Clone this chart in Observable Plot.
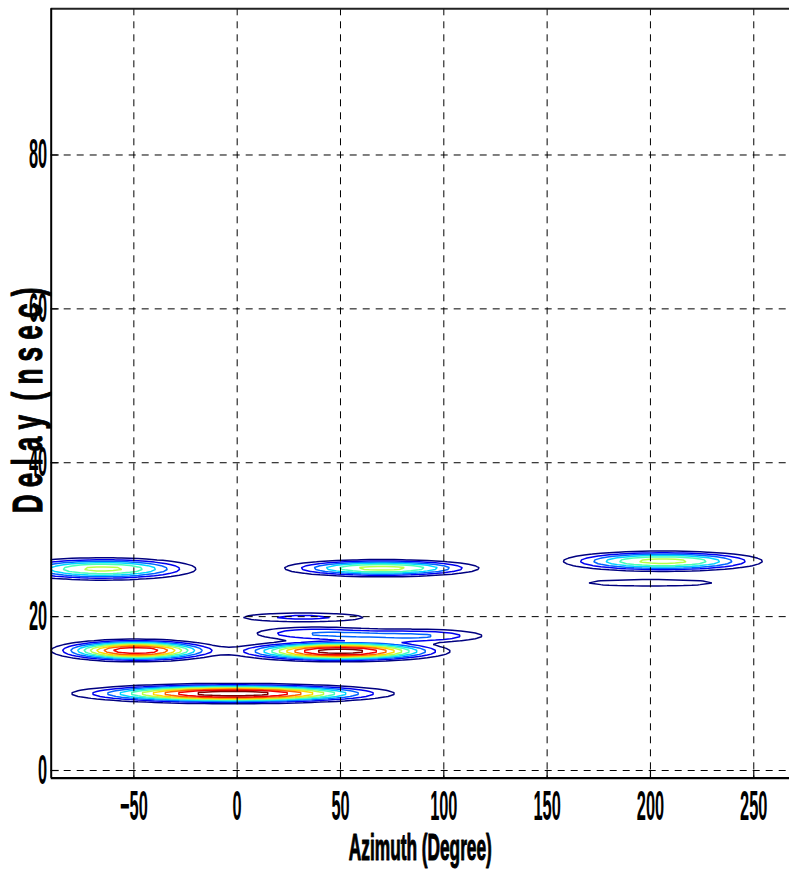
<!DOCTYPE html>
<html>
<head>
<meta charset="utf-8">
<script src="https://cdn.jsdelivr.net/npm/d3@7"></script>
<script src="https://cdn.jsdelivr.net/npm/@observablehq/plot@0.6"></script>
<style>
  html, body { margin: 0; padding: 0; background: #fff; overflow: hidden; }
  #chart svg { display: block; max-width: none; }
</style>
</head>
<body>
<div id="chart"></div>
<script>
// Axis extents and ticks
const azimuthDomain = [-90, 270];
const delayDomain = [-1, 99];
const azimuthTicks = [-50, 0, 50, 100, 150, 200, 250];
const delayTicks = [0, 20, 40, 60, 80];

// Contour levels (normalised power) and their jet colours
const levels = [0.09, 0.18, 0.27, 0.36, 0.45, 0.54, 0.63, 0.72, 0.81, 0.9];
const levelColors = ["#000080", "#0000f0", "#0063ff", "#00d5ff", "#47ffb8",
                     "#b8ff47", "#ffd500", "#ff6300", "#f00000", "#800000"];

// Multipath components: azimuth (deg), delay (ns), normalised power, spreads
const pathAzimuth     = [-2,   -49,  50,   85,   38,   32,   -65,  70,   206,  200];
const pathDelay       = [10.0, 15.6, 15.5, 17.5, 17.8, 19.9, 26.2, 26.3, 27.2, 24.4];
const pathPower       = [0.96, 0.88, 0.95, 0.285, 0.26, 0.20, 0.56, 0.57, 0.57, 0.11];
const pathSpreadAz    = [42,   22.3, 28.5, 24,   21,   24,   26.8, 27.9, 28.5, 43];
const pathSpreadDelay = [0.70, 0.80, 0.74, 0.62, 0.62, 0.46, 0.86, 0.66, 0.78, 0.62];

// Sampled azimuth-delay power grid (flat-topped beam shape)
const gx1 = -130, gx2 = 310, gy1 = -1, gy2 = 99;
const nx = 110, ny = 400;
const grid = new Float64Array(nx * ny);
for (let j = 0; j < ny; ++j) {
  const tau = gy1 + (j + 0.5) * (gy2 - gy1) / ny;
  for (let i = 0; i < nx; ++i) {
    const az = gx1 + (i + 0.5) * (gx2 - gx1) / nx;
    let p = 0;
    for (let k = 0; k < pathPower.length; ++k) {
      const da = (az - pathAzimuth[k]) / pathSpreadAz[k];
      const dt = (tau - pathDelay[k]) / pathSpreadDelay[k];
      const r = Math.sqrt(da * da + dt * dt);
      p += pathPower[k] * Math.exp(-0.5 * Math.pow(r, 2.5));
    }
    grid[i + j * nx] = p;
  }
}

const W = 789, H = 870;
const mL = 50.7, mT = 8.3, mB = 92.3;
const plotRight = 794.6; // the axes box runs slightly past the page edge
const frameW = W - mL, frameH = H - mT - mB;
const font = "'Liberation Sans', Arial, Helvetica, sans-serif";
const label = {fontWeight: "bold", fill: "#000", stroke: "#000", strokeWidth: 1.1};

const svg = Plot.plot({
  width: W,
  height: H,
  marginLeft: mL,
  marginRight: 0,
  marginTop: mT,
  marginBottom: mB,
  style: {fontFamily: font, background: "#fff", maxWidth: "none"},
  x: {domain: azimuthDomain, range: [mL, plotRight]},
  y: {domain: delayDomain},
  color: {type: "ordinal", domain: levels, range: levelColors},
  marks: [
    Plot.contour(grid, {
      width: nx, height: ny, x1: gx1, x2: gx2, y1: gy1, y2: gy2,
      thresholds: levels,
      stroke: Plot.identity,
      fill: "none",
      strokeWidth: 1.5,
      clip: true
    }),
    Plot.gridX(azimuthTicks, {stroke: "#000", strokeOpacity: 1, strokeWidth: 1, strokeDasharray: "7,6"}),
    Plot.gridY(delayTicks, {stroke: "#000", strokeOpacity: 1, strokeWidth: 1, strokeDasharray: "7,6"}),
    Plot.ruleX(azimuthTicks, {stroke: "#000", strokeWidth: 1.2, insetTop: frameH - 8}),
    Plot.ruleY(delayTicks, {stroke: "#000", strokeWidth: 1.2, insetRight: frameW - 8}),
    Plot.axisX(azimuthTicks, {tickSize: 0, tickPadding: 12, fontSize: 42, label: null, ...label}),
    Plot.axisY(delayTicks, {tickSize: 0, tickPadding: 4, fontSize: 42, label: null, ...label}),
    // axes box: bottom, top and left edges
    Plot.ruleY([delayDomain[0]], {stroke: "#000", strokeWidth: 2.2}),
    Plot.ruleY([delayDomain[1]], {stroke: "#222", strokeWidth: 2}),
    Plot.ruleX([azimuthDomain[0]], {stroke: "#000", strokeWidth: 2}),
    Plot.text(["Azimuth (Degree)"], {frameAnchor: "bottom", dy: 70, lineAnchor: "middle", fontSize: 36, ...label}),
    Plot.text(["D e l a y  ( n s e c )"], {frameAnchor: "left", dx: -23, dy: 7, rotate: -90, textAnchor: "middle", lineAnchor: "middle", fontSize: 42, ...label})
  ]
});

// Condensed lettering: squeeze each label along its own baseline
d3.select(svg).selectAll("text").each(function () {
  const el = d3.select(this);
  const txt = el.text();
  const x = +el.attr("x") || 0, y = +el.attr("y") || 0;
  const t = el.attr("transform") || "";
  const s = txt === "Azimuth (Degree)" ? 0.48 : (t.includes("rotate") ? 0.62 : 0.39);
  el.style("white-space", "pre");
  el.attr("transform", `${t} translate(${x},${y}) scale(${s},1) translate(${-x},${-y})`);
});

document.getElementById("chart").appendChild(svg);
</script>
</body>
</html>
